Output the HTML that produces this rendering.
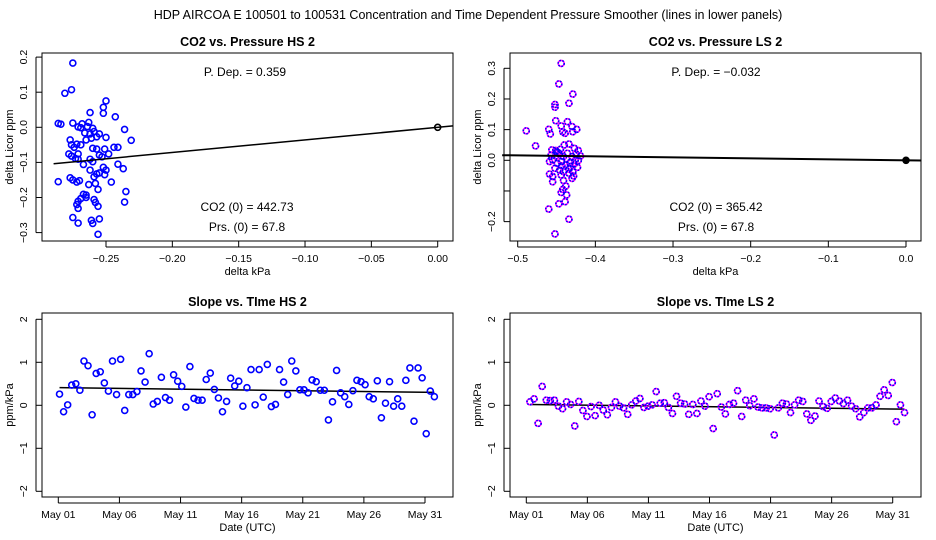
<!DOCTYPE html>
<html><head><meta charset="utf-8"><style>
html,body{margin:0;padding:0;background:#fff;}
svg{display:block;font-family:"Liberation Sans",sans-serif;}
</style></head><body>
<svg id="c" width="936" height="540" viewBox="0 0 936 540">
<text x="468" y="19" text-anchor="middle" font-size="12.5">HDP    AIRCOA E    100501 to 100531    Concentration and Time Dependent Pressure Smoother (lines in lower panels)</text>
</svg>
<script>
const hsPx=[-0.275,-0.281,-0.276,-0.25,-0.252,-0.252,-0.262,-0.243,-0.286,-0.284,-0.275,-0.268,-0.263,-0.271,-0.269,-0.264,-0.26,-0.236,-0.266,-0.262,-0.259,-0.257,-0.255,-0.25,-0.231,-0.277,-0.265,-0.261,-0.276,-0.272,-0.269,-0.274,-0.26,-0.257,-0.251,-0.244,-0.241,-0.248,-0.255,-0.253,-0.278,-0.276,-0.271,-0.273,-0.271,-0.262,-0.26,-0.267,-0.262,-0.252,-0.25,-0.241,-0.237,-0.255,-0.251,-0.257,-0.259,-0.277,-0.275,-0.27,-0.272,-0.286,-0.258,-0.263,-0.246,-0.256,-0.235,-0.267,-0.265,-0.269,-0.265,-0.259,-0.271,-0.272,-0.258,-0.236,-0.256,-0.271,-0.275,-0.255,-0.261,-0.26,-0.271,-0.256];
const hsPy=[0.183,0.097,0.107,0.075,0.057,0.04,0.042,0.03,0.011,0.009,0.012,0.01,0.014,0.001,-0.001,0.002,-0.003,-0.006,-0.016,-0.019,-0.012,-0.027,-0.019,-0.029,-0.037,-0.036,-0.036,-0.031,-0.05,-0.048,-0.05,-0.057,-0.06,-0.062,-0.062,-0.057,-0.057,-0.076,-0.079,-0.084,-0.076,-0.082,-0.076,-0.089,-0.091,-0.091,-0.098,-0.106,-0.122,-0.114,-0.122,-0.105,-0.118,-0.13,-0.135,-0.133,-0.141,-0.144,-0.15,-0.152,-0.156,-0.155,-0.16,-0.163,-0.156,-0.177,-0.183,-0.191,-0.193,-0.203,-0.2,-0.206,-0.211,-0.22,-0.214,-0.213,-0.225,-0.231,-0.257,-0.261,-0.265,-0.274,-0.273,-0.305];
const lsPx=[-0.444,-0.447,-0.429,-0.434,-0.452,-0.452,-0.489,-0.46,-0.458,-0.451,-0.444,-0.442,-0.439,-0.436,-0.43,-0.429,-0.424,-0.477,-0.456,-0.451,-0.445,-0.44,-0.434,-0.427,-0.422,-0.419,-0.457,-0.451,-0.446,-0.441,-0.436,-0.43,-0.425,-0.459,-0.455,-0.449,-0.444,-0.438,-0.433,-0.427,-0.422,-0.452,-0.446,-0.441,-0.434,-0.429,-0.423,-0.459,-0.455,-0.444,-0.434,-0.428,-0.43,-0.455,-0.441,-0.438,-0.442,-0.444,-0.437,-0.439,-0.447,-0.46,-0.434,-0.452,-0.448,-0.437,-0.432,-0.426,-0.45,-0.443];
const lsPy=[0.316,0.249,0.216,0.186,0.182,0.173,0.096,0.101,0.086,0.129,0.112,0.093,0.088,0.126,0.11,0.093,0.101,0.047,0.034,0.032,0.036,0.05,0.053,0.039,0.032,0.014,0.017,0.014,0.021,0.012,0.023,0.012,0.021,-0.004,0.001,-0.01,-0.004,-0.015,-0.008,-0.012,-0.001,-0.026,-0.032,-0.037,-0.029,-0.037,-0.023,-0.045,-0.053,-0.048,-0.042,-0.051,-0.059,-0.07,-0.066,-0.084,-0.095,-0.105,-0.113,-0.135,-0.142,-0.159,-0.192,-0.24,0.025,0.005,-0.02,0.0,0.028,-0.018];
const hsSlope=[0.26,-0.15,0.01,0.47,0.5,0.35,1.03,0.92,-0.22,0.74,0.78,0.52,0.33,1.03,0.25,1.07,-0.12,0.25,0.25,0.32,0.8,0.54,1.2,0.03,0.09,0.65,0.18,0.12,0.71,0.56,0.44,-0.04,0.9,0.16,0.12,0.12,0.6,0.75,0.37,0.17,-0.15,0.09,0.63,0.45,0.56,-0.02,0.41,0.83,0.01,0.83,0.19,0.95,-0.03,0.02,0.83,0.54,0.25,1.03,0.8,0.36,0.36,0.29,0.59,0.55,0.35,0.35,-0.34,0.08,0.81,0.29,0.2,0.02,0.34,0.58,0.55,0.48,0.2,0.15,0.57,-0.29,0.05,0.55,-0.02,0.15,-0.02,0.58,0.87,-0.37,0.87,0.64,-0.66,0.33,0.2];
const lsSlope=[0.08,0.15,-0.42,0.44,0.12,0.11,0.12,-0.02,-0.08,0.08,0.02,-0.48,0.09,-0.12,-0.26,-0.03,-0.24,0,-0.11,-0.22,-0.05,0.08,-0.02,-0.06,-0.21,0.01,0.1,0.16,-0.05,-0.02,0.01,0.32,0.05,0.06,-0.05,-0.19,0.21,0.05,0.03,-0.21,0.02,-0.19,0.1,-0.02,0.2,-0.54,0.27,-0.04,-0.2,0.02,0.05,0.34,-0.26,0.12,-0.01,0.15,-0.04,-0.06,-0.06,-0.08,-0.69,-0.06,0.05,0.03,-0.17,0.01,0.12,0.09,-0.2,-0.35,-0.25,0.1,-0.03,-0.07,0.09,0.17,0.1,0.04,0.12,-0.02,-0.08,-0.27,-0.17,-0.06,-0.06,0.01,0.21,0.36,0.23,0.53,-0.38,0.01,-0.17];
const hsStartDay=0.1, lsStartDay=0.3, sampleStep=1/3;
const hsTrend=[0.41,0.30], lsTrend=[0.02,-0.09];
const hsPDep=0.359, lsPDep=-0.032;
const dateLabels=["May 01","May 06","May 11","May 16","May 21","May 26","May 31"];
const dateTicks=[0,5,10,15,20,25,30];

const svg=document.getElementById('c');
const NS='http://www.w3.org/2000/svg';
function el(tag,attrs,parent){const e=document.createElementNS(NS,tag);for(const k in attrs)e.setAttribute(k,attrs[k]);(parent||svg).appendChild(e);return e;}
function txt(x,y,s,size,anchor,rot,bold,parent){const t=el('text',{x:x,y:y,'font-size':size,'text-anchor':anchor||'middle'},parent);if(rot)t.setAttribute('transform','rotate(-90 '+x+' '+y+')');if(bold)t.setAttribute('font-weight','bold');t.textContent=s;return t;}
function lin(d0,d1,r0,r1){return v=>r0+(v-d0)*(r1-r0)/(d1-d0);}

function panel(o){
  const g=el('g',{});
  
  
  const box=el('rect',{x:o.x0,y:o.y0,width:o.x1-o.x0,height:o.y1-o.y0,fill:'none',stroke:'#000','stroke-width':1},g);
  
  
  const tt=txt((o.x0+o.x1)/2,o.y0-7,o.title,12.5,'middle',false,true,g);
  
  
  const ya=el('g',{},g);
  
  
  o.yt.forEach((v,i)=>{const y=o.sy(v);el('line',{x1:o.x0-6,x2:o.x0,y1:y,y2:y,stroke:'#000'},ya);
    if(o.ytl[i]!==''){txt(o.x0-15,y,o.ytl[i],10.5,'middle',true,false,ya);}});
  el('line',{x1:o.x0-6,x2:o.x0-6,y1:o.sy(o.yt[0]),y2:o.sy(o.yt[o.yt.length-1]),stroke:'#000'},ya);
  const yl=txt(o.x0-29,(o.y0+o.y1)/2,o.ylab,11,'middle',true,false,g);
  
  
  const xa=el('g',{},g);
  
  
  o.xt.forEach((v,i)=>{const x=o.sx(v);el('line',{x1:x,x2:x,y1:o.y1,y2:o.y1+6,stroke:'#000'},xa);txt(x,o.y1+21,o.xtl[i],10.5,'middle',false,false,xa);});
  el('line',{x1:o.sx(o.xt[0]),x2:o.sx(o.xt[o.xt.length-1]),y1:o.y1+6,y2:o.y1+6,stroke:'#000'},xa);
  const xl=txt((o.x0+o.x1)/2,o.y1+34,o.xlab,11,'middle',false,false,g);
  
  
  return g;
}
function pts(g,xs,ys,sx,sy,color,fill){
  xs.forEach((xv,i)=>{const c=el('circle',{cx:sx(xv),cy:sy(ys[i]),r:3,fill:'none',stroke:color,'stroke-width':1.6},g);
    
    });
}

// Top-left
{const sx=lin(-0.25,0,106,437.7), sy=lin(0,0.1,127.3,92.2);
 const g=panel({name:'co2-vs-pressure-hs2',x0:42,x1:453,y0:53,y1:241,title:'CO2 vs. Pressure HS 2',sx,sy,
  yt:[0.2,0.1,0,-0.1,-0.2,-0.3],ytl:['0.2','0.1','0.0','\u22120.1','\u22120.2','\u22120.3'],
  xt:[-0.25,-0.2,-0.15,-0.1,-0.05,0],xtl:['\u22120.25','\u22120.20','\u22120.15','\u22120.10','\u22120.05','0.00'],
  ylab:'delta Licor ppm',xlab:'delta kPa'});
 pts(g,hsPx,hsPy,sx,sy,'#0000ff');
 const l=el('line',{x1:sx(-0.2895),y1:sy(-0.2895*hsPDep),x2:sx(0.0115),y2:sy(0.0115*hsPDep),stroke:'#000','stroke-width':1.5},g);
 
 el('circle',{cx:sx(0),cy:sy(0),r:3,fill:'none',stroke:'#000','stroke-width':1.6},g);
 txt(245,76,'P. Dep. =  '+hsPDep.toFixed(3),12,'middle',false,false,g);
 txt(247,211,'CO2 (0) =  442.73',12,'middle',false,false,g);
 txt(247,231,'Prs. (0) =  67.8',12,'middle',false,false,g);}
// Top-right
{const sx=lin(-0.5,0,517.7,906), sy=lin(0,0.3,160.3,68.3);
 const g=panel({name:'co2-vs-pressure-ls2',x0:510,x1:921,y0:53,y1:241,title:'CO2 vs. Pressure LS 2',sx,sy,
  yt:[0.3,0.2,0.1,0,-0.1,-0.2],ytl:['0.3','0.2','0.1','0.0','','\u22120.2'],
  xt:[-0.5,-0.4,-0.3,-0.2,-0.1,0],xtl:['\u22120.5','\u22120.4','\u22120.3','\u22120.2','\u22120.1','0.0'],
  ylab:'delta Licor ppm',xlab:'delta kPa'});
 pts(g,lsPx,lsPy,sx,sy,'#ff00ff');
 pts(g,lsPx,lsPy,sx,sy,'#0000ff');
 g.querySelectorAll('circle').forEach((c,i)=>{if(i>=lsPx.length){c.setAttribute('stroke-dasharray','1.5 1.5');}});
 const l=el('line',{x1:sx(-0.52),y1:sy(-0.52*lsPDep),x2:sx(0.02),y2:sy(0.02*lsPDep),stroke:'#000','stroke-width':2},g);
 
 el('circle',{cx:sx(0),cy:sy(0),r:3,fill:'#000',stroke:'#000','stroke-width':1.6},g);
 txt(716,76,'P. Dep. =  \u22120.032',12,'middle',false,false,g);
 txt(716,211,'CO2 (0) =  365.42',12,'middle',false,false,g);
 txt(716,231,'Prs. (0) =  67.8',12,'middle',false,false,g);}
// Bottom panels
function slopePanel(name,title,x0,x1,d0px,d30px,vals,start,trend,color,dual){
  const sx=lin(0,30,d0px,d30px), sy=lin(0,2,405.3,319.3);
  const g=panel({name,x0,x1,y0:313,y1:497,title,sx,sy,
    yt:[2,1,0,-1,-2],ytl:['2','1','0','\u22121','\u22122'],xt:dateTicks,xtl:dateLabels,ylab:'ppm/kPa',xlab:'Date (UTC)'});
  const days=vals.map((v,i)=>start+i*sampleStep);
  const t0=days[0], t1=days[days.length-1];
  const l=el('line',{x1:sx(t0),y1:sy(trend[0]),x2:sx(t1),y2:sy(trend[1]),stroke:'#000','stroke-width':1.5},g);
  
  pts(g,days,vals,sx,sy,color);
  if(dual){const n=g.querySelectorAll('circle').length;pts(g,days,vals,sx,sy,'#0000ff');
    g.querySelectorAll('circle').forEach((c,i)=>{if(i>=n)c.setAttribute('stroke-dasharray','1.5 1.5');});}
}
slopePanel('slope-vs-time-hs2','Slope vs. TIme HS 2',42,453,58.3,425,hsSlope,hsStartDay,hsTrend,'#0000ff',false);
slopePanel('slope-vs-time-ls2','Slope vs. TIme LS 2',510,921,526.3,892.7,lsSlope,lsStartDay,lsTrend,'#ff00ff',true);
</script>
</body></html>
